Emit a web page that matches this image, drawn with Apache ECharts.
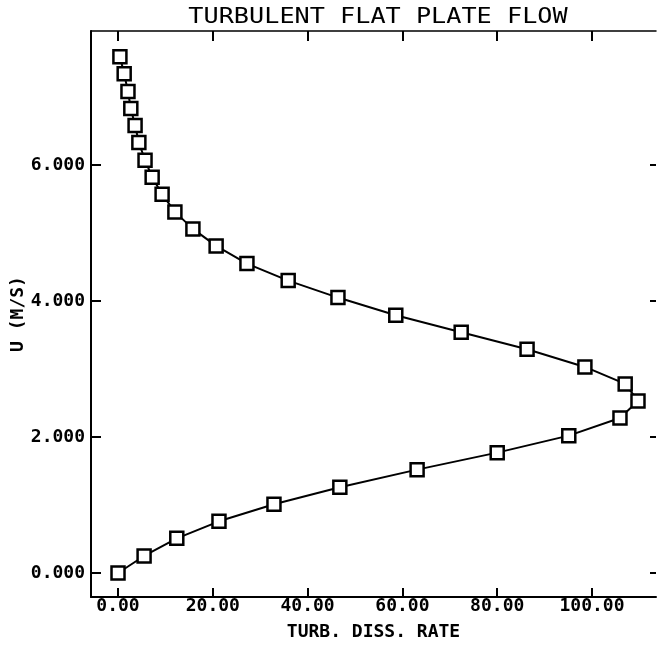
<!DOCTYPE html>
<html>
<head>
<meta charset="utf-8">
<script src="https://cdn.jsdelivr.net/npm/echarts@6/dist/echarts.min.js"></script>
<style>
  html, body { margin: 0; padding: 0; background: #fff; }
  #chart { width: 657px; height: 646px; }
</style>
</head>
<body>
<div id="chart"></div>
<script>
// values (x = turb. diss. rate, y = U in m/s)
var dissRate = [0, 5.5, 12.4, 21.3, 32.9, 46.8, 63.1, 80.0, 95.1, 105.9, 109.7,
  107.0, 98.5, 86.3, 72.4, 58.6, 46.4, 35.9, 27.2, 20.7, 15.8,
  12.0, 9.3, 7.2, 5.7, 4.4, 3.6, 2.7, 2.1, 1.3, 0.4];
var velocity = [0, 0.25, 0.51, 0.76, 1.01, 1.26, 1.52, 1.77, 2.02, 2.28, 2.53,
  2.78, 3.03, 3.29, 3.54, 3.79, 4.05, 4.30, 4.55, 4.81, 5.06,
  5.31, 5.57, 5.82, 6.07, 6.33, 6.58, 6.83, 7.08, 7.34, 7.59];
var xTicks = [0, 20, 40, 60, 80, 100];
var yTicks = [0, 2, 4, 6];

var xMin = -5.7, xMax = 113.5;
var yMin = -0.353, yMax = 7.97;

var pts = [];
for (var i = 0; i < dissRate.length; i++) {
  pts.push([dissRate[i], velocity[i]]);
}

var labelFont = {
  fontFamily: 'DejaVu Sans Mono',
  fontWeight: 'bold',
  fontSize: 18,
  color: '#000'
};

var myChart = echarts.init(document.getElementById('chart'));
myChart.setOption({
  animation: false,
  backgroundColor: '#fff',
  // title drawn as a stretched text so it matches the wide plotter lettering
  graphic: [{
    type: 'text',
    x: 378,
    y: 18,
    scaleX: 1.2,
    style: {
      text: 'TURBULENT FLAT PLATE FLOW',
      fontFamily: 'DejaVu Sans Mono',
      fontSize: 21,
      fill: '#000',
      align: 'center',
      verticalAlign: 'middle'
    }
  }],
  grid: { left: 91, top: 31, width: 565, height: 566, outerBoundsMode: 'none', containLabel: false },
  xAxis: [{
    type: 'value',
    min: xMin, max: xMax,
    name: 'TURB. DISS. RATE',
    nameLocation: 'middle',
    nameGap: 26,
    nameTextStyle: labelFont,
    splitLine: { show: false },
    axisLine: { onZero: false, lineStyle: { color: '#000', width: 2 } },
    axisTick: { inside: true, length: 9, customValues: xTicks, lineStyle: { color: '#000', width: 2 } },
    axisLabel: Object.assign({
      customValues: xTicks,
      margin: 0,
      formatter: function (v) { return v.toFixed(2); }
    }, labelFont)
  }, {
    type: 'value',
    position: 'top',
    min: xMin, max: xMax,
    splitLine: { show: false },
    axisLine: { onZero: false, lineStyle: { color: '#000', width: 1.5 } },
    axisTick: { inside: true, length: 10, customValues: xTicks, lineStyle: { color: '#000', width: 2 } },
    axisLabel: { show: false }
  }],
  yAxis: [{
    type: 'value',
    min: yMin, max: yMax,
    name: 'U (M/S)',
    nameLocation: 'middle',
    nameGap: 64,
    nameRotate: 90,
    nameMoveOverlap: false,
    nameTextStyle: labelFont,
    splitLine: { show: false },
    axisLine: { onZero: false, lineStyle: { color: '#000', width: 2 } },
    axisTick: { inside: true, length: 10, customValues: yTicks, lineStyle: { color: '#000', width: 2 } },
    axisLabel: Object.assign({
      customValues: yTicks,
      margin: 6,
      formatter: function (v) { return v.toFixed(3); }
    }, labelFont)
  }, {
    type: 'value',
    position: 'right',
    min: yMin, max: yMax,
    splitLine: { show: false },
    axisLine: { show: false, onZero: false },
    axisTick: { show: true, inside: true, length: 6, customValues: yTicks, lineStyle: { color: '#000', width: 2 } },
    axisLabel: { show: false }
  }],
  series: [{
    type: 'line',
    data: pts,
    symbol: 'rect',
    symbolSize: 13,
    lineStyle: { color: '#000', width: 2 },
    itemStyle: { color: '#fff', borderColor: '#000', borderWidth: 2.5 }
  }]
});
</script>
</body>
</html>
